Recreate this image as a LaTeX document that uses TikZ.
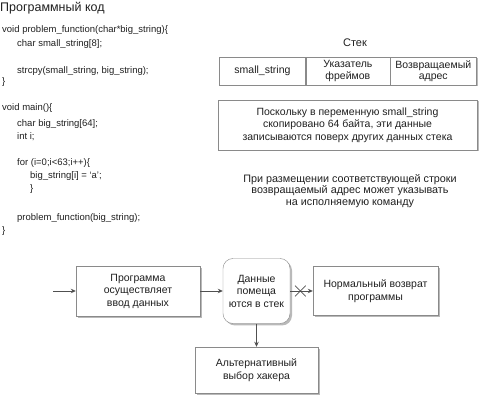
\documentclass[tikz,border=0pt]{standalone}
\usepackage{fontspec}
\setmainfont{Liberation Sans}
\usetikzlibrary{positioning,shadows,shapes.misc,arrows.meta}

\definecolor{linegray}{HTML}{505050}
\definecolor{boxgray}{HTML}{8A8A8A}
\definecolor{textgray}{HTML}{202020}

\tikzset{%
  code line/.style={
    anchor=west,
    inner sep=0pt,
    text=textgray,
    font=\fontsize{9.5}{11}\selectfont
  },
  stack cell/.style={
    draw=boxgray,
    fill=white,
    minimum height=28pt,
    inner sep=1pt,
    align=center,
    text=textgray,
    font=\fontsize{10.5}{11.5}\selectfont,
    drop shadow={shadow xshift=1.5pt, shadow yshift=-1.5pt, fill=gray!55, opacity=1}
  },
  flow box/.style={
    draw=boxgray,
    fill=white,
    align=center,
    inner sep=1pt,
    text=textgray,
    font=\fontsize{10.5}{12.5}\selectfont,
    drop shadow={shadow xshift=2pt, shadow yshift=-2pt, fill=gray!55, opacity=1}
  },
  note text/.style={
    align=center,
    inner sep=0pt,
    text=textgray,
    font=\fontsize{10.8}{11.8}\selectfont
  },
  flow arrow/.style={
    draw=linegray,
    line width=0.8pt,
    -{Stealth[length=5pt,width=4.5pt]}
  },
}

\begin{document}
\begin{tikzpicture}[x=1pt, y=-1pt]
    \useasboundingbox (0,0) rectangle (496,411);

    % program code
    \node [anchor=west, inner sep=0pt, text=textgray,
      font=\fontsize{12.5}{14}\selectfont] (code-title) at (0,8) {Программный код};
    \foreach \y/\x/\t [count=\i] in {
        30/2/{void problem\_function(char*big\_string)\{},
        44/17/{char small\_string[8];},
        71/17/{strcpy(small\_string, big\_string);},
        82/2/{\}},
        108/2/{void main()\{},
        124/17/{char big\_string[64];},
        137/17/{int i;},
        163/17/{for (i=0;i<63;i++)\{},
        176/30/{big\_string[i] = ‘a’;},
        189/30/{\}},
        218/17/{problem\_function(big\_string);},
        231/2/{\}}}
      \node [code line] (code-\i) at (\x,\y) {\t};

    % stack
    \node [note text, font=\fontsize{11}{13}\selectfont] (stack-title) at (355,43) {Стек};
    \node [stack cell, minimum width=86pt] (stack-1) at (262.5,71) {small\_string};
    \node [stack cell, minimum width=84pt, right=0pt of stack-1] (stack-2) {Указатель\\фреймов};
    \node [stack cell, minimum width=86pt, right=0pt of stack-2] (stack-3) {Возвращаемый\\адрес};
    \node [stack cell, minimum width=259pt, minimum height=50pt,
      font=\fontsize{10.5}{12.5}\selectfont] (overflow) at (347.5,125)
      {Поскольку в переменную small\_string\\скопировано 64 байта, эти данные\\записываются поверх других данных стека};
    \node [note text] (return-note) at (350,191)
      {При размещении соответствующей строки\\возвращаемый адрес может указывать\\на исполняемую команду};

    % flow
    \coordinate (flow-start) at (53,291);
    \node [flow box, minimum width=124pt, minimum height=50pt] (input) at (138,291)
      {Программа\\осуществляет\\ввод данных};
    \node [flow box, rounded corners=10pt, minimum width=67pt, minimum height=65pt] (push) at (256.5,291)
      {Данные\\помеща\\ются в стек};
    \node [flow box, minimum width=125pt, minimum height=49pt] (normal) at (375.5,291)
      {Нормальный возврат\\программы};
    \node [flow box, minimum width=123pt, minimum height=46pt] (hacker) at (256.5,370)
      {Альтернативный\\выбор хакера};

    \draw [flow arrow] (flow-start) -- (input);
    \draw [flow arrow] (input) -- (push);
    \draw [flow arrow] (push) -- (normal)
      node [pos=0.45, cross out, draw=linegray, line width=0.7pt, minimum size=10pt, inner sep=0pt] (blocked) {};
    \draw [flow arrow] (push) -- (hacker);
\end{tikzpicture}
\end{document}
